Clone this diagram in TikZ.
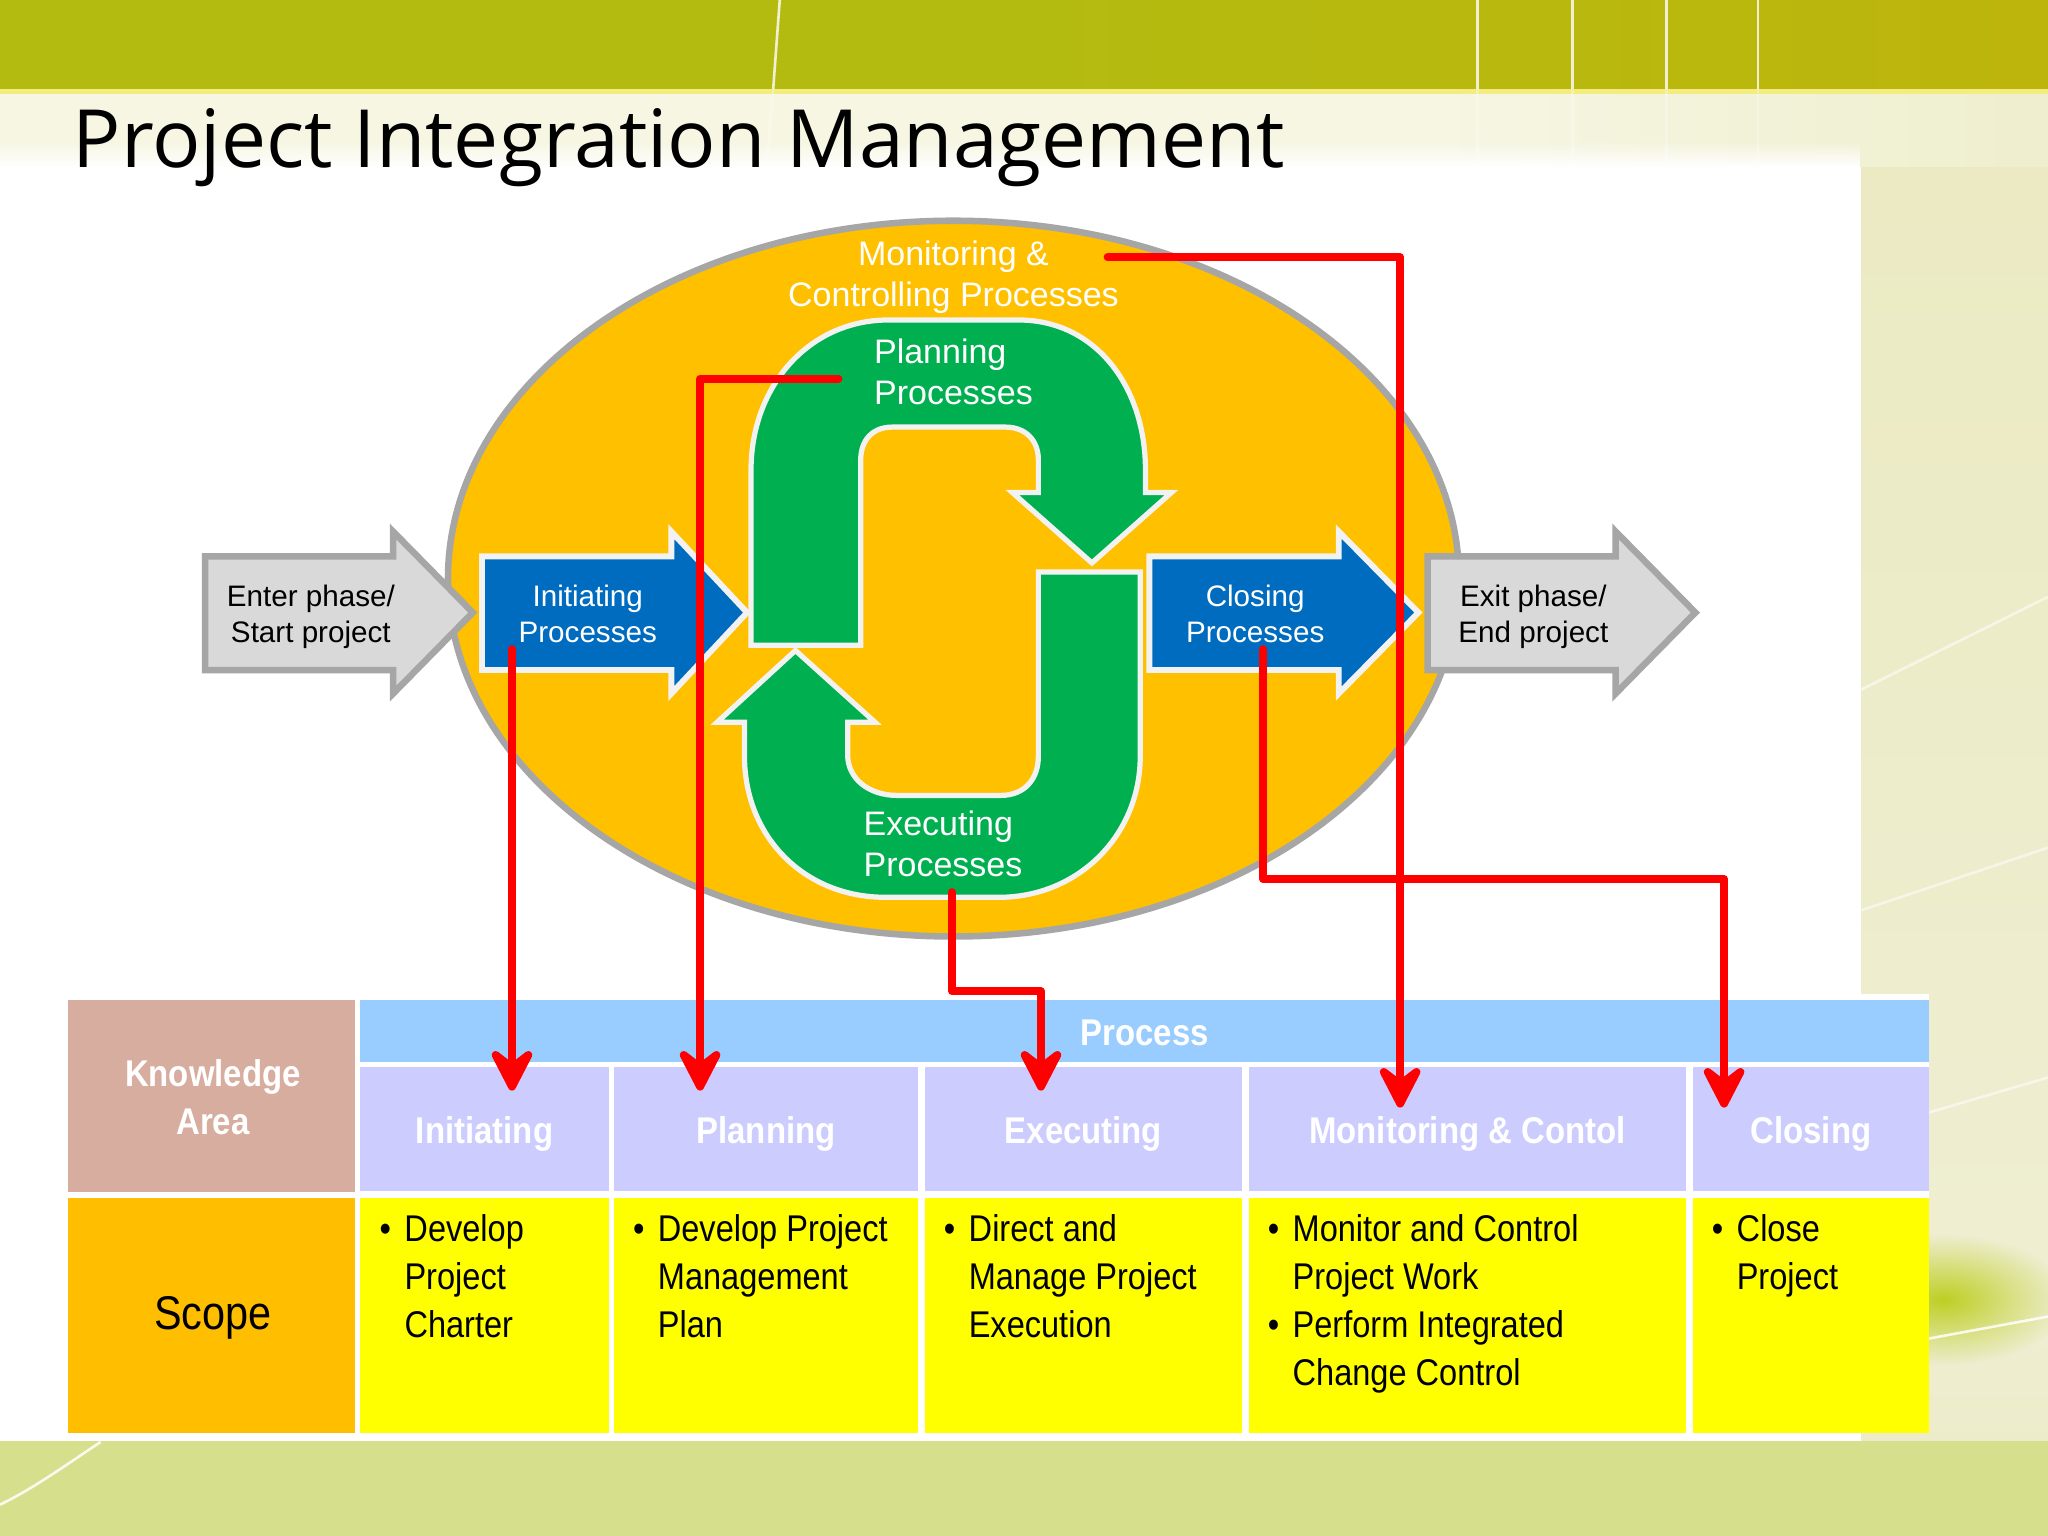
\documentclass[tikz,border=0pt]{standalone}
\usepackage{fontspec}
\usepackage{tikz}
\usetikzlibrary{arrows.meta,fadings}
\setmainfont{Liberation Sans}
\newfontfamily\ttlfont{Open Sans}
\newfontfamily\narrowfont[FakeStretch=0.875]{Liberation Sans}
\newfontfamily\headfont[FakeStretch=0.885]{Liberation Sans Bold}
\definecolor{bandgreen}{HTML}{B4BB10}
\definecolor{bandright}{HTML}{BDB50C}
\definecolor{palepanel}{HTML}{E8E8BA}
\definecolor{palemid}{HTML}{EFEED2}
\definecolor{paleground}{HTML}{D5DF8C}
\definecolor{ovalfill}{HTML}{FFC000}
\definecolor{ovalline}{HTML}{A6A6A6}
\definecolor{greyfill}{HTML}{D9D9D9}
\definecolor{bluefill}{HTML}{006CBF}
\definecolor{greenfill}{HTML}{00B050}
\definecolor{softwhite}{HTML}{F2F2F2}
\definecolor{kacell}{HTML}{D6AD9F}
\definecolor{processcell}{HTML}{99CCFF}
\definecolor{subcell}{HTML}{CCCCFF}
\definecolor{scopecell}{HTML}{FFBE00}
\definecolor{bodycell}{HTML}{FFFF00}
\definecolor{blobgreen}{HTML}{B8CC10}
\definecolor{redconn}{HTML}{FF0000}
\pgfdeclarehorizontalshading{paleband}{100bp}{color(0bp)=(paleground!60!white); color(12bp)=(palepanel!40!white); color(60bp)=(palepanel!40!white); color(85bp)=(palepanel!90!white); color(100bp)=(palepanel)}
\pgfdeclareverticalshading{palecolumn}{100bp}{color(0bp)=(paleground); color(15bp)=(palepanel); color(30bp)=(palemid); color(100bp)=(palepanel)}
\tikzfading[name=softblob,inner color=transparent!10,outer color=transparent!100]
\tikzset{
  greyarrow/.style={draw=ovalline,fill=greyfill,line width=0.05cm},
  bluearrow/.style={draw=softwhite,fill=bluefill,line width=0.045cm},
  greenarrow/.style={draw=softwhite,fill=greenfill,line width=0.04cm},
  redline/.style={draw=redconn,line width=0.06cm,line cap=round,line join=round},
  redarrow/.style={redline,-{Stealth[length=4.1mm,width=4.2mm,inset=1.6mm,round]}},
  wisp/.style={draw=white,line width=0.02cm,opacity=0.55},
  arrowlbl/.style={font=\fontsize{6.45pt}{7.8pt}\selectfont,align=center},
  ovallbl/.style={font=\fontsize{7.4pt}{8.9pt}\selectfont,align=center,text=white},
  cell/.style 2 args={inner sep=0,outer sep=0,minimum width=#1*0.01cm,minimum height=#2*0.01cm},
  headlbl/.style={font=\headfont\fontsize{8.1pt}{10.3pt}\selectfont,align=center,text=white},
  subhead/.style={headlbl,text height=8.1pt,text depth=1.7pt},
  bodylbl/.style={font=\narrowfont\fontsize{8.1pt}{10.45pt}\selectfont,align=left,anchor=north west,inner sep=0}
}
\newcommand{\bul}{\makebox[0.19cm][l]{\textbullet}}
\newcommand{\nobul}{\makebox[0.19cm][l]{}}
\begin{document}
\begin{tikzpicture}[x=0.01cm,y=-0.01cm]
\useasboundingbox (0,0) rectangle (1568,1176);
\begin{scope}
  \fill[white] (0,0) rectangle (1568,1176);
  \shade[left color=bandgreen,right color=bandright,middle color=bandgreen] (0,0) rectangle (1568,68);
  \fill[yellow!35!palepanel] (0,68) rectangle (1568,72);
  \shade[shading=paleband] (0,72) rectangle (1568,128);
  \shade[shading=palecolumn] (1425,128) rectangle (1568,1103);
  \fill[paleground] (0,1103) rectangle (1568,1176);
  \fill[white] (0,128) rectangle (1425,1103);
  \fill[white,path fading=north] (0,108) rectangle (1425,128);
  \fill[blobgreen,path fading=softblob] (1488,995) ellipse (95 and 50);
  \draw[wisp,opacity=0.8] (597,0) -- (592,68);
  \draw[wisp,opacity=0.8] (1131,0) -- (1131,68);
  \draw[wisp,opacity=0.8] (1204,0) -- (1204,68);
  \draw[wisp,opacity=0.8] (1276,0) -- (1276,68);
  \draw[wisp,opacity=0.8] (1346,0) -- (1346,68);
  \draw[wisp,opacity=0.3] (592,68) -- (587,128);
  \draw[wisp,opacity=0.3] (1131,68) -- (1131,128);
  \draw[wisp,opacity=0.3] (1204,68) -- (1204,128);
  \draw[wisp,opacity=0.3] (1276,68) -- (1276,128);
  \draw[wisp,opacity=0.3] (1346,68) -- (1346,128);
  \draw[wisp] (1425,528) -- (1568,457);
  \draw[wisp] (1425,697) -- (1568,649);
  \draw[wisp] (1476,852) -- (1568,825);
  \draw[wisp,opacity=0.85] (1476,1025) -- (1568,1008);
  \draw[wisp,opacity=0.85] (77,1104) .. controls (50,1122) and (25,1140) .. (0,1152);
\end{scope}

\node (ttl) [anchor=base west,inner sep=0,font=\ttlfont\fontsize{17.5pt}{20pt}\selectfont] at (55,128) {Project Integration Management};

\draw[draw=ovalline,fill=ovalfill,line width=0.05cm] (730,443) ellipse (387 and 274);

\draw[greyarrow] (157,426) -- (301,426) -- (301,407) -- (362,469) -- (301,531) -- (301,513) -- (157,513) -- cycle;
\draw[bluearrow] (369,426) -- (514,426) -- (514,407) -- (572,469) -- (514,531) -- (514,513) -- (369,513) -- cycle;
\draw[bluearrow] (880,426) -- (1025,426) -- (1025,407) -- (1086,469) -- (1025,531) -- (1025,513) -- (880,513) -- cycle;
\draw[greyarrow] (1093,426) -- (1237,426) -- (1237,407) -- (1298,469) -- (1237,531) -- (1237,513) -- (1093,513) -- cycle;

\draw[greenarrow] (575,494) -- (575,360) .. controls (575,295) and (620,245) .. (680,245)
  -- (780,245) .. controls (838,245) and (877,295) .. (877,360) -- (877,377) -- (897,377)
  -- (836,431) -- (775,377) -- (795,377) -- (795,352) .. controls (795,337) and (785,327) .. (770,327)
  -- (683,327) .. controls (668,327) and (659,337) .. (659,352) -- (659,494) -- cycle;
\draw[greenarrow] (795,438) -- (873,438) -- (873,579) .. controls (873,640) and (825,687) .. (765,687)
  -- (678,687) .. controls (615,687) and (570,640) .. (570,579) -- (570,553) -- (549,553)
  -- (609,498) -- (670,553) -- (649,553) -- (649,578) .. controls (649,596) and (665,609) .. (687,609)
  -- (766,609) .. controls (785,609) and (795,596) .. (795,579) -- cycle;

\node (lblEnter) [arrowlbl] at (238,472) {Enter phase/\\Start project};
\node (lblInit) [arrowlbl,text=white] at (450,470) {Initiating\\Processes};
\node (lblClose) [arrowlbl,text=white] at (961,470) {Closing\\Processes};
\node (lblExit) [arrowlbl] at (1174,472) {Exit phase/\\End project};
\node (lblMon) [ovallbl] at (730,212) {Monitoring \&\\Controlling Processes};
\node (lblPlan) [ovallbl,align=left] at (730,285) {Planning\\Processes};
\node (lblExec) [ovallbl,align=left] at (722,646) {Executing\\Processes};

\fill[white] (48,761) rectangle (1477,1097);
\node (kaHead) [cell={220}{147},fill=kacell] at (162,839) {};
\node (kaText) [headlbl,inner sep=0] at (163,840) {Knowledge\\Area};
\node (procHead) [cell={1201}{47},fill=processcell,headlbl,text height=6.4pt,text depth=0pt] at (876.5,789.5) {Process};
\node (initHead) [cell={190}{95},fill=subcell,subhead] at (371,864.5) {Initiating};
\node (planHead) [cell={233}{95},fill=subcell,subhead] at (586.5,864.5) {Planning};
\node (execHead) [cell={243}{95},fill=subcell,subhead] at (829.5,864.5) {Executing};
\node (monHead) [cell={335}{95},fill=subcell,subhead] at (1123.5,864.5) {Monitoring \& Contol};
\node (closeHead) [cell={181}{95},fill=subcell,subhead] at (1386.5,864.5) {Closing};
\node (scopeCell) [cell={220}{180},fill=scopecell] at (162,1007) {};
\node (scopeText) [font=\narrowfont\fontsize{10.3pt}{12pt}\selectfont,inner sep=0] at (163,1009) {Scope};
\node (initCell) [cell={190}{180},fill=bodycell] at (371,1007) {};
\node (planCell) [cell={233}{180},fill=bodycell] at (586.5,1007) {};
\node (execCell) [cell={243}{180},fill=bodycell] at (829.5,1007) {};
\node (monCell) [cell={335}{180},fill=bodycell] at (1123.5,1007) {};
\node (closeCell) [cell={181}{180},fill=bodycell] at (1386.5,1007) {};
\node (initText) [bodylbl] at (290,929) {\bul Develop\\\nobul Project\\\nobul Charter};
\node (planText) [bodylbl] at (484,929) {\bul Develop Project\\\nobul Management\\\nobul Plan};
\node (execText) [bodylbl] at (722,929) {\bul Direct and\\\nobul Manage Project\\\nobul Execution};
\node (monText) [bodylbl] at (970,929) {\bul Monitor and Control\\\nobul Project Work\\\bul Perform Integrated\\\nobul Change Control};
\node (closeText) [bodylbl] at (1310,929) {\bul Close\\\nobul Project};

\coordinate (initStart) at (392,497);
\coordinate (initEnd) at (392,835);
\coordinate (planStart) at (642,290);
\coordinate (planEnd) at (536,835);
\coordinate (execStart) at (729,683);
\coordinate (execBend) at (797,759);
\coordinate (execEnd) at (797,835);
\coordinate (monStart) at (848,197);
\coordinate (monEnd) at (1072,848);
\coordinate (closeStart) at (967,497);
\coordinate (closeBend) at (1320,673);
\coordinate (closeEnd) at (1320,848);
\draw[redarrow] (initStart) -- (initEnd);
\draw[redarrow] (planStart) -| (planEnd);
\draw[redarrow] (execStart) |- (execBend) -- (execEnd);
\draw[redarrow] (monStart) -| (monEnd);
\draw[redarrow] (closeStart) |- (closeBend) -- (closeEnd);
\end{tikzpicture}
\end{document}
